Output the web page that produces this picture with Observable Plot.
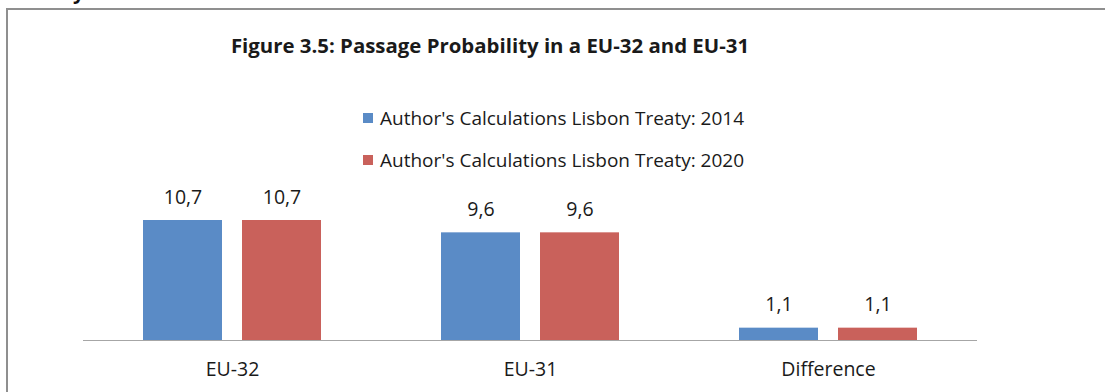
<!DOCTYPE html>
<html>
<head>
<meta charset="utf-8">
<script src="https://cdn.jsdelivr.net/npm/d3@7"></script>
<script src="https://cdn.jsdelivr.net/npm/@observablehq/plot@0.6"></script>
<style>
  html, body { margin: 0; padding: 0; background: #fff; }
  #wrap { position: relative; width: 1105px; height: 392px; overflow: hidden; background: #fff; font-family: "Open Sans", "Noto Sans", sans-serif; color: #1a1a1a; }
  #frame { position: absolute; left: 6px; top: 8px; width: 1200px; height: 500px; border: 2px solid #8f8f8f; box-sizing: border-box; }
  #frag { position: absolute; left: 73px; top: -22px; font: bold 20px "Open Sans", sans-serif; color: #111; }
  #title { position: absolute; left: 0; width: 980px; top: 32px; text-align: center; font-weight: bold; font-size: 20.4px; line-height: 26px; white-space: nowrap; }
  .leg { position: absolute; left: 363px; display: flex; align-items: center; font-size: 19px; line-height: 22px; white-space: nowrap; }
  .leg span.sw { display: inline-block; width: 10px; height: 10px; margin-right: 7px; }
  #chart { position: absolute; left: 0; top: 0; }
</style>
</head>
<body>
<div id="wrap">
  <div id="frame"></div>
  <div id="frag">y</div>
  <div id="title"></div>
  <div id="legend"></div>
  <div id="chart"></div>
</div>
<script>
const titleText = "Figure 3.5: Passage Probability in a EU-32 and EU-31";
const categories = ["EU-32", "EU-31", "Difference"];
const series = ["Author's Calculations Lisbon Treaty: 2014", "Author's Calculations Lisbon Treaty: 2020"];
const values2014 = [10.7, 9.6, 1.1];
const values2020 = [10.7, 9.6, 1.1];
const colors = ["#5a8bc6", "#c9615b"];

document.getElementById("title").textContent = titleText;

const legend = document.getElementById("legend");
series.forEach((s, i) => {
  const row = document.createElement("div");
  row.className = "leg";
  row.style.top = (107 + i * 42) + "px";
  const sw = document.createElement("span");
  sw.className = "sw";
  sw.style.background = colors[i];
  row.appendChild(sw);
  row.appendChild(document.createTextNode(s));
  legend.appendChild(row);
});

const data = [];
categories.forEach((c, i) => {
  data.push({cat: c, series: series[0], value: values2014[i]});
  data.push({cat: c, series: series[1], value: values2020[i]});
});
const fmt = v => v.toFixed(1).replace(".", ",");

const chart = Plot.plot({
  width: 1105,
  height: 392,
  marginLeft: 83,
  marginRight: 128,
  marginTop: 220,
  marginBottom: 52,
  style: {fontFamily: "'Open Sans', 'Noto Sans', sans-serif", color: "#1a1a1a", background: "transparent", overflow: "visible"},
  fx: {domain: categories, padding: 0, label: null},
  x: {domain: series, paddingInner: 0.202, paddingOuter: 0.606, axis: null},
  y: {domain: [0, 10.7], axis: null},
  color: {domain: series, range: colors},
  marks: [
    Plot.barY(data, {fx: "cat", x: "series", y: "value", fill: "series"}),
    Plot.ruleY([0], {stroke: "#a6a6a6", strokeWidth: 1}),
    Plot.text(data, {fx: "cat", x: "series", y: "value", text: d => fmt(d.value), lineAnchor: "bottom", dy: -17, fontSize: 19.5, fill: "#1a1a1a"}),
    Plot.axisFx({anchor: "bottom", tickSize: 0, tickPadding: 22, fontSize: 19.5, label: null, fill: "#1a1a1a"})
  ]
});
document.getElementById("chart").appendChild(chart);
</script>
</body>
</html>
